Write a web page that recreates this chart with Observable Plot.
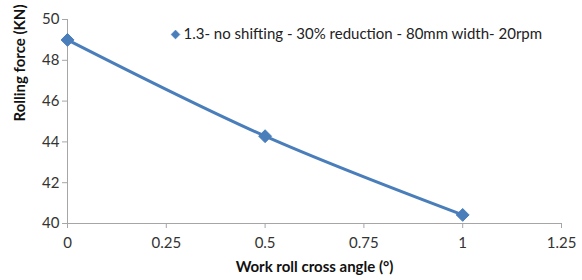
<!DOCTYPE html>
<html><head><meta charset="utf-8">
<script src="https://cdn.jsdelivr.net/npm/d3@7"></script>
<script src="https://cdn.jsdelivr.net/npm/@observablehq/plot@0.6"></script>
<style>body{margin:0;background:#fff}</style>
</head><body><div id="chart"></div>
<script>
const angles = [0, 0.5, 1];
const forces = [49.0, 44.28, 40.42];
const seriesName = "1.3- no shifting - 30% reduction - 80mm width- 20rpm";
const xTicks = [0, 0.25, 0.5, 0.75, 1, 1.25];
const yTicks = [40, 42, 44, 46, 48, 50];
const data = angles.map((a, i) => ({angle: a, force: forces[i]}));
const blue = "#4a7ebb";
const font = "Lato, 'Open Sans', sans-serif";

const chart = Plot.plot({
  width: 582, height: 280,
  marginLeft: 67, marginRight: 21, marginTop: 19, marginBottom: 57,
  style: {fontFamily: font, fontSize: "15px", color: "#333", background: "#fff"},
  x: {domain: [0, 1.25], ticks: xTicks},
  y: {domain: [40, 50], ticks: yTicks},
  marks: [
    Plot.ruleY([40], {stroke: "#a6a6a6", strokeWidth: 1}),
    Plot.ruleX([0], {stroke: "#a6a6a6", strokeWidth: 1}),
    Plot.axisX({ticks: xTicks, tickFormat: d => String(d), tickSize: 5, stroke: "#a6a6a6", strokeOpacity: 1, tickPadding: 9, fill: "#333", fontSize: 15, label: null}),
    Plot.axisY({ticks: yTicks, tickFormat: d => String(d), tickSize: 5, stroke: "#a6a6a6", strokeOpacity: 1, tickPadding: 3, fill: "#333", fontSize: 15, label: null}),
    Plot.text(["Work roll cross angle (°)"], {frameAnchor: "bottom", dy: 48, fontWeight: "bold", fontSize: 15, fill: "#111"}),
    Plot.text(["Rolling force (KN)"], {frameAnchor: "left", dx: -47, rotate: -90, fontWeight: "bold", fontSize: 15, fill: "#111"}),
    Plot.line(data, {x: "angle", y: "force", stroke: blue, strokeWidth: 3, curve: "catmull-rom"}),
    Plot.dot(data, {x: "angle", y: "force", symbol: "diamond2", r: 5.8, fill: blue, stroke: blue, strokeWidth: 1}),
    Plot.dot([seriesName], {frameAnchor: "top-left", dx: 108, dy: 15, symbol: "diamond2", r: 4, fill: blue, stroke: blue, strokeWidth: 0.5}),
    Plot.text([seriesName], {frameAnchor: "top-left", dx: 116, dy: 15, lineAnchor: "middle", textAnchor: "start", fontSize: 15, fill: "#222"})
  ]
});
document.getElementById("chart").appendChild(chart);
</script>
</body></html>
